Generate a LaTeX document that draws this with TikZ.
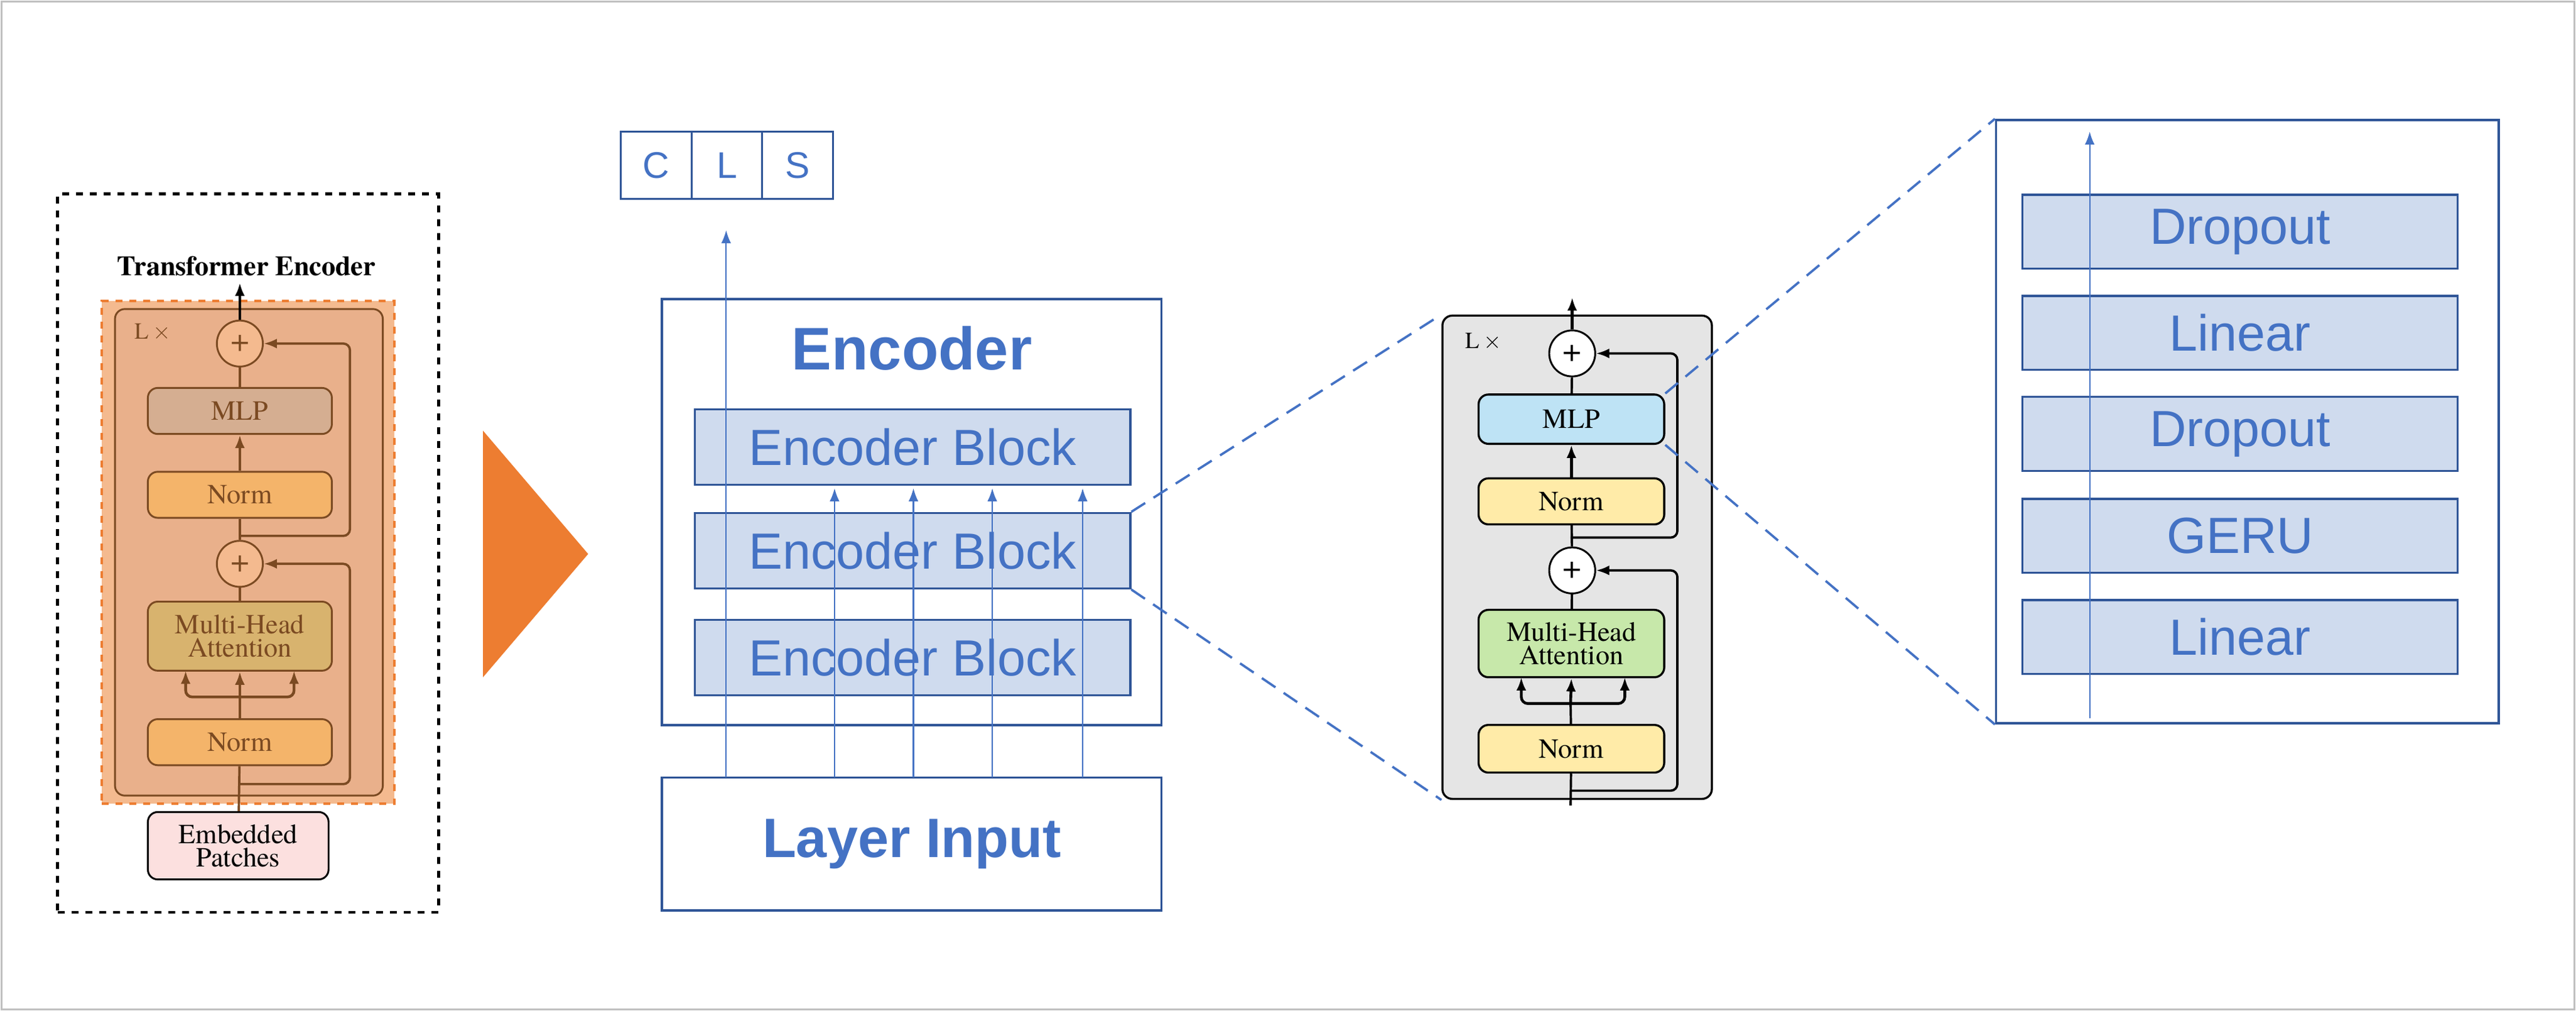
\documentclass[tikz,border=0pt]{standalone}
\usepackage{fontspec}
\setmainfont{TeX Gyre Termes}[Scale=1]
\newfontfamily\jpsans{Liberation Sans}
\usetikzlibrary{arrows.meta, positioning}
\definecolor{txtblue}{HTML}{4472C4}
\definecolor{lineblue}{HTML}{2F5597}
\definecolor{blkfill}{HTML}{CFDBEE}
\definecolor{brown}{HTML}{7B4A22}
\definecolor{orfill}{HTML}{F4BA8F}
\definecolor{ininfill}{HTML}{E9B08B}
\definecolor{tri}{HTML}{ED7D31}

\begin{document}
\begin{tikzpicture}[x=0.25mm, y=-0.25mm,
  blk/.style={draw=lineblue, line width=0.9pt, fill=blkfill, minimum width=66.25mm, minimum height=11.5mm, font=\jpsans\fontsize{22}{24}\selectfont, text=txtblue},
  bigbox/.style={draw=lineblue, line width=1pt, minimum width=76mm},
  cell/.style={draw=lineblue, line width=0.8pt, minimum width=10.75mm, minimum height=10.25mm, font=\jpsans\fontsize{16}{18}\selectfont, text=txtblue},
  vitl/.style={draw=brown, line width=0.8pt, rounded corners=1.5mm, minimum width=28mm, minimum height=7mm, text=brown, font=\fontsize{12}{12}\selectfont, align=center},
  vitm/.style={draw=black, line width=0.9pt, rounded corners=1.5mm, minimum width=28.25mm, minimum height=7mm, font=\fontsize{12}{12}\selectfont, align=center},
  plus/.style={circle, draw, line width=0.8pt, minimum size=7mm, inner sep=0pt, font=\Large},
  bup/.style={-{Latex[length=2mm]}, line width=1.2pt},
  flow/.style={-{Latex[length=2mm]}, txtblue, line width=0.6pt},
  zoomline/.style={txtblue, line width=1pt, dash pattern=on 2.5mm off 1.5mm}
]
\useasboundingbox (0,0) rectangle (1568,615);
\draw[gray!50, line width=0.8pt] (1,1) rectangle (1567,614);

% left panel
\node[draw, dashed, line width=1.2pt, minimum width=58mm, minimum height=109.25mm] (vitframe) at (151,336.5) {};
\node[font=\bfseries\fontsize{12}{12}\selectfont] (vittitle) at (150,162) {Transformer Encoder};
\node[draw=tri, fill=orfill, dashed, line width=1pt, minimum width=44.5mm, minimum height=76.5mm] (orbox) at (151,336) {};
\node[draw=brown, fill=ininfill, rounded corners=1.5mm, line width=0.8pt, minimum width=40.75mm, minimum height=74mm] (lbox) at (151.5,336) {};
\node[text=brown, font=\fontsize{10}{10}\selectfont] (llx) at (93,202) {L\,$\times$};
\node[plus, draw=brown, text=brown, fill=orfill] (lpa) at (146,209) {+};
\node[vitl, fill={rgb,255:red,213;green,174;blue,145}] (lmlp) at (146,250) {MLP};
\node[vitl, fill={rgb,255:red,244;green,180;blue,106}] (lnorma) at (146,301) {Norm};
\node[plus, draw=brown, text=brown, fill=orfill] (lpb) at (146,343) {+};
\node[vitl, fill={rgb,255:red,216;green,179;blue,110}, minimum height=10.5mm] (lmha) at (146,387) {Multi-Head\\[-2pt]Attention};
\node[vitl, fill={rgb,255:red,244;green,180;blue,106}] (lnormb) at (146,451.5) {Norm};
\node[vitl, draw=black, fill={rgb,255:red,252;green,224;blue,223}, minimum width=27.5mm, minimum height=10.25mm, text=black] (emb) at (145,514.5) {Embedded\\[-2pt]Patches};
\coordinate (ltop) at (146,172);
\begin{scope}[brown, line width=1pt]
  \draw (emb) -- (lnormb);
  \draw (lnormb) -- (146,424);
  \draw[bup] (146,424) -- (lmha.south);
  \draw[bup, rounded corners=1mm] (146,424) -| (113,408);
  \draw[bup, rounded corners=1mm] (146,424) -| (179,408);
  \draw (lmha) -- (lpb);
  \draw (lpb) -- (lnorma);
  \draw[bup] (lnorma) -- (lmlp);
  \draw (lmlp) -- (lpa);
  \draw[bup, black] (lpa) -- (ltop);
  \draw[-{Latex[length=2mm]}, rounded corners=1mm] (146,477) -| (213,343) -- (lpb);
  \draw[-{Latex[length=2mm]}, rounded corners=1mm] (146,326) -| (213,209) -- (lpa);
\end{scope}

% arrow
\fill[tri] (294,262) -- (358,337) -- (294,412) -- cycle;

% encoder
\node[cell] (cC) at (399.5,100.5) {C};
\node[cell] (cL) at (442.5,100.5) {L};
\node[cell] (cS) at (485.5,100.5) {S};
\node[bigbox, minimum height=64.75mm] (enc) at (555,311.5) {};
\node[font=\jpsans\bfseries\fontsize{26}{28}\selectfont, text=txtblue] (enctitle) at (555,212) {Encoder};
\node[bigbox, minimum height=20.25mm, font=\jpsans\bfseries\fontsize{24}{26}\selectfont, text=txtblue] (lin) at (555,513.5) {Layer Input};
\foreach \n/\y in {1/272, 2/335, 3/400}
  \node[blk] (eb\n) at (555.5,\y) {Encoder Block};
\coordinate (clsin) at (442,140);
\draw[flow] (442,473) -- (clsin);
\foreach \x in {508,556,604,659}
  \draw[flow] (\x,473) -- (\x,297);

% middle
\node[draw, fill=gray!20, rounded corners=1.5mm, line width=0.9pt, minimum width=41mm, minimum height=73.5mm] (mbox) at (960,339) {};
\node[font=\fontsize{10}{10}\selectfont] (mlx) at (903,208) {L\,$\times$};
\node[plus, fill=white] (mpa) at (957,215) {+};
\node[vitm, fill={rgb,255:red,190;green,227;blue,245}, minimum height=7.5mm] (mmlp) at (956.5,255) {MLP};
\node[vitm, fill={rgb,255:red,255;green,235;blue,168}] (mnorma) at (956.5,305) {Norm};
\node[plus, fill=white] (mpb) at (957,347) {+};
\node[vitm, fill={rgb,255:red,199;green,232;blue,170}, minimum height=10.25mm] (mmha) at (956.5,391.5) {Multi-Head\\[-2pt]Attention};
\node[vitm, fill={rgb,255:red,255;green,235;blue,168}, minimum height=7.25mm] (mnormb) at (956.5,455.5) {Norm};
\coordinate (mbot) at (956,490);
\coordinate (mtop) at (957,181);
\begin{scope}[line width=1pt]
  \draw (mbot) -- (mnormb);
  \draw (mnormb) -- (956,428);
  \draw[bup] (956,428) -- (mmha.south);
  \draw[bup, rounded corners=1mm] (956,428) -| (926,412);
  \draw[bup, rounded corners=1mm] (956,428) -| (989,412);
  \draw (mmha) -- (mpb);
  \draw (mpb) -- (mnorma);
  \draw[bup] (mnorma) -- (mmlp);
  \draw (mmlp) -- (mpa);
  \draw[bup] (mpa) -- (mtop);
  \draw[-{Latex[length=2mm]}, rounded corners=1mm] (956,481) -| (1021,347) -- (mpb);
  \draw[-{Latex[length=2mm]}, rounded corners=1mm] (956,327) -| (1021,215) -- (mpa);
\end{scope}

% right
\node[bigbox, minimum width=76.5mm, minimum height=91.75mm] (mlpbox) at (1368,256.5) {};
\foreach \n/\t/\y in {1/Dropout/141, 2/Linear/202.5, 3/Dropout/264, 4/GERU/326, 5/Linear/387.5}
  \node[blk, minimum height=11.25mm] (ml\n) at (1363.5,\y) {\t};
\coordinate (mlin) at (1272,437);
\coordinate (mlout) at (1272,80);
\draw[flow] (mlin) -- (mlout);

% zoom lines
\draw[zoomline] (eb2.north east) -- (mbox.north west);
\draw[zoomline] (eb2.south east) -- (mbox.south west);
\draw[zoomline] (mmlp.north east) -- (mlpbox.north west);
\draw[zoomline] (mmlp.south east) -- (mlpbox.south west);
\end{tikzpicture}
\end{document}
